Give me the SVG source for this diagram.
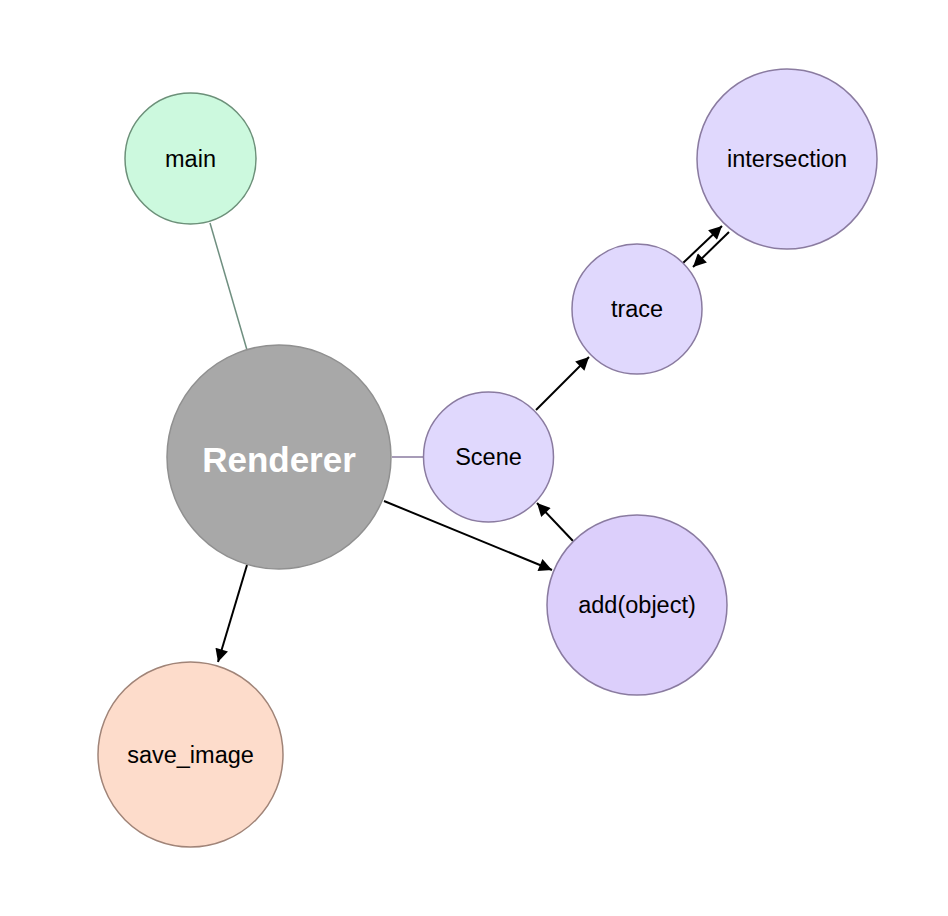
<svg xmlns="http://www.w3.org/2000/svg" width="948" height="916" viewBox="0 0 948 916">
<style>
.n{stroke-width:1.5}
.t{font-family:"Liberation Sans",Arial,sans-serif;font-size:23.5px;fill:#000;text-anchor:middle;dominant-baseline:central}
.e{stroke:#000;stroke-width:2;fill:none}
.p{fill:#e0d8fd;stroke:#8a7ba0}
</style>
<defs>
<marker id="ah" viewBox="0 0 10 10" refX="10" refY="5" markerWidth="15" markerHeight="13" markerUnits="userSpaceOnUse" orient="auto">
<path d="M0,0 L10,5 L0,10 z" fill="#000"/>
</marker>
</defs>
<rect width="948" height="916" fill="#fff"/>
<g id="edges">
<line x1="210" y1="223" x2="247" y2="350" stroke="#6f8f80" stroke-width="1.5"/>
<line x1="392" y1="457" x2="423" y2="457" stroke="#8a7ba0" stroke-width="1.5"/>
<line class="e" x1="384" y1="501" x2="552" y2="570" marker-end="url(#ah)"/>
<line class="e" x1="247" y1="565" x2="218" y2="662" marker-end="url(#ah)"/>
<line class="e" x1="536" y1="410" x2="589" y2="357" marker-end="url(#ah)"/>
<line class="e" x1="573" y1="541" x2="537" y2="503" marker-end="url(#ah)"/>
<line class="e" x1="683" y1="263" x2="722" y2="226" marker-end="url(#ah)"/>
<line class="e" x1="729" y1="232" x2="693" y2="267" marker-end="url(#ah)"/>
</g>
<g id="main"><circle class="n" cx="190.5" cy="158.5" r="65.5" fill="#ccf9de" stroke="#6c9079"/><text class="t" x="190.5" y="159">main</text></g>
<g id="Renderer"><circle class="n" cx="279" cy="457" r="112" fill="#a8a8a8" stroke="#909090"/><text class="t" x="279" y="459" style="font-size:35px;font-weight:bold;fill:#fff">Renderer</text></g>
<g id="Scene"><circle class="n p" cx="488.5" cy="457" r="65"/><text class="t" x="488.5" y="457">Scene</text></g>
<g id="trace"><circle class="n p" cx="637" cy="309" r="65"/><text class="t" x="637" y="309">trace</text></g>
<g id="intersection"><circle class="n p" cx="787" cy="159" r="90"/><text class="t" x="787" y="159">intersection</text></g>
<g id="add"><circle class="n" cx="637" cy="605" r="90" fill="#dccffb" stroke="#8a7ba0"/><text class="t" x="637" y="605">add(object)</text></g>
<g id="save_image"><circle class="n" cx="190.5" cy="754.5" r="92.5" fill="#fddccb" stroke="#a08478"/><text class="t" x="190.5" y="755">save_image</text></g>
</svg>
